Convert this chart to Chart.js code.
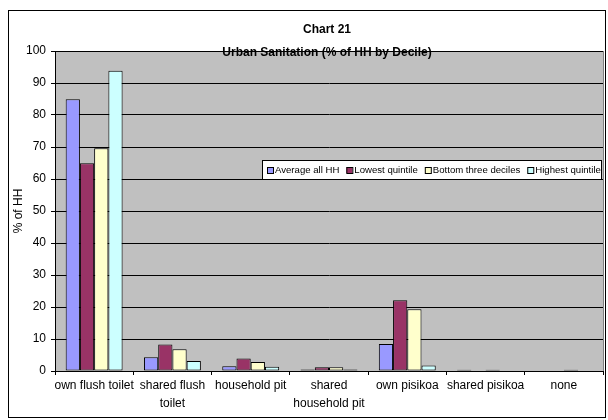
<!DOCTYPE html>
<html>
<head>
<meta charset="utf-8">
<script src="https://cdn.jsdelivr.net/npm/chart.js@4/dist/chart.umd.min.js"></script>
<style>
  html, body { margin: 0; padding: 0; background: #fff; }
  #wrap { width: 608px; height: 420px; position: relative; }
</style>
</head>
<body>
<div id="wrap"><canvas id="chart" width="608" height="420"></canvas></div>
<script>
const categories = [
  "own flush toilet", ["shared flush", "toilet"], "household pit",
  ["shared", "household pit"], "own pisikoa", "shared pisikoa", "none"
];
const seriesNames = ["Average all HH", "Lowest quintile", "Bottom three deciles", "Highest quintile"];
const averageAll = [84.9, 4.3, 1.5, 0.5, 8.4, 0.4, 0];
const lowestQuintile = [64.9, 8.3, 3.9, 1.2, 22.1, 0, 0];
const bottomThreeDeciles = [69.6, 6.8, 2.8, 1.2, 19.3, 0.4, 0.4];
const highestQuintile = [93.8, 3.1, 1.3, 0.5, 1.7, 0, 0];
const yTicks = [0, 10, 20, 30, 40, 50, 60, 70, 80, 90, 100];

const colors = ["#9999FF", "#993366", "#FFFFCC", "#CCFFFF"];
const FONT = "'Liberation Sans', Arial, sans-serif";

// grey plot area, titles, axis title, legend box and outer frame
const frame = {
  id: "frame",
  beforeDraw(chart) {
    const { ctx, chartArea: a } = chart;
    ctx.save();
    ctx.fillStyle = "#C0C0C0";
    ctx.fillRect(a.left, a.top, a.right - a.left, a.bottom - a.top);
    ctx.restore();
  },
  afterDraw(chart) {
    const { ctx, chartArea: a } = chart;
    ctx.save();
    ctx.strokeStyle = "#808080";
    ctx.lineWidth = 1;
    ctx.beginPath();
    ctx.moveTo(a.right + 0.5, a.top);
    ctx.lineTo(a.right + 0.5, a.bottom);
    ctx.stroke();

    ctx.strokeStyle = "#000";
    ctx.strokeRect(8.5, 10.5, 597, 407);

    ctx.fillStyle = "#000";
    ctx.textAlign = "center";
    ctx.textBaseline = "middle";
    ctx.font = "bold 12px " + FONT;
    ctx.fillText("Chart 21", 327, 30);
    ctx.fillText("Urban Sanitation (% of HH by Decile)", 327, 53);

    ctx.font = "12px " + FONT;
    ctx.translate(19, 211);
    ctx.rotate(-Math.PI / 2);
    ctx.fillText("% of HH", 0, 0);
    ctx.setTransform(1, 0, 0, 1, 0, 0);

    // legend
    const lx = 262, ly = 160, lw = 339, lh = 19;
    ctx.fillStyle = "#fff";
    ctx.fillRect(lx, ly, lw, lh);
    ctx.strokeStyle = "#000";
    ctx.strokeRect(lx + 0.5, ly + 0.5, lw, lh);
    ctx.font = "9.6px " + FONT;
    ctx.textAlign = "left";
    let x = lx + 5;
    chart.data.datasets.forEach((ds) => {
      ctx.fillStyle = ds.backgroundColor;
      ctx.fillRect(x, ly + 7, 6, 6);
      ctx.strokeRect(x + 0.5, ly + 7.5, 6, 6);
      ctx.fillStyle = "#000";
      ctx.fillText(ds.label, x + 8, ly + 10.5);
      x += 8 + ctx.measureText(ds.label).width + 7;
    });
    ctx.restore();
  }
};

const datasets = [averageAll, lowestQuintile, bottomThreeDeciles, highestQuintile].map((d, i) => ({
  label: seriesNames[i],
  data: d,
  backgroundColor: colors[i],
  borderColor: "#000",
  borderWidth: 1,
  borderSkipped: false,
  categoryPercentage: 0.727,
  barPercentage: 1
}));

new Chart(document.getElementById("chart"), {
  type: "bar",
  data: { labels: categories, datasets },
  options: {
    responsive: false,
    animation: false,
    layout: { padding: { top: 51, left: 0, right: 5, bottom: 0 } },
    plugins: { legend: { display: false }, title: { display: false }, tooltip: { enabled: false } },
    scales: {
      x: {
        grid: { drawOnChartArea: false, drawTicks: true, tickLength: 4, color: "#000", offset: true },
        border: { color: "#000" },
        ticks: { color: "#000", font: { family: FONT, size: 12, lineHeight: 1.5 }, padding: 2, maxRotation: 0, autoSkip: false },
        afterFit(s) { s.height = 49; }
      },
      y: {
        min: 0, max: 100,
        afterBuildTicks(s) { s.ticks = yTicks.map((v) => ({ value: v })); },
        grid: { color: "#000", tickLength: 4 },
        border: { color: "#000" },
        ticks: { color: "#000", font: { family: FONT, size: 12 }, padding: 5 },
        afterFit(s) { s.width = 55; }
      }
    }
  },
  plugins: [frame]
});
</script>
</body>
</html>
